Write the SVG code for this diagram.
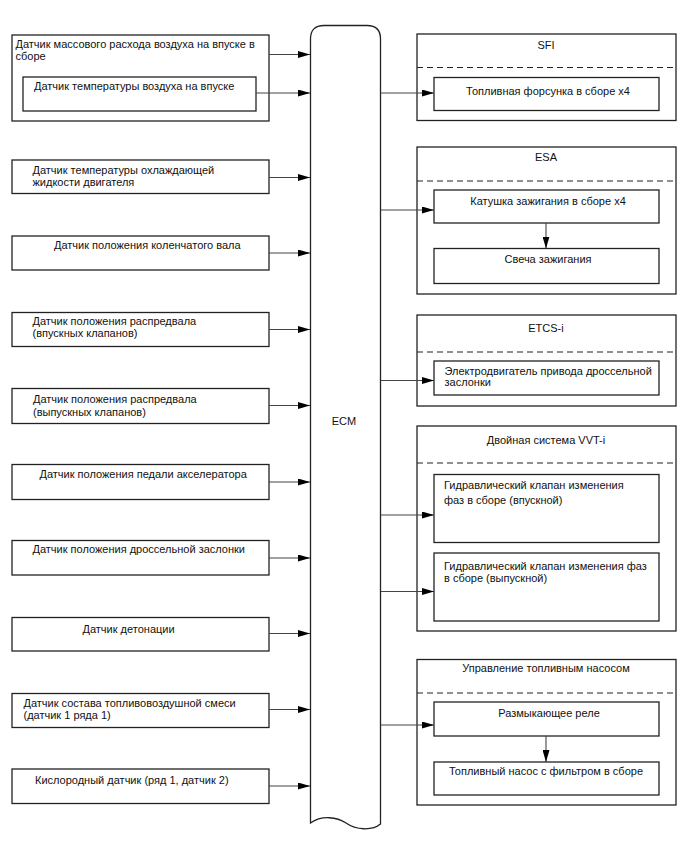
<svg xmlns="http://www.w3.org/2000/svg" width="688" height="852" viewBox="0 0 688 852">
<defs>
<marker id="ah" viewBox="0 0 12 7" refX="12" refY="3.5" markerWidth="12" markerHeight="7" markerUnits="userSpaceOnUse" orient="auto">
<path d="M0,0 L12,3.5 L0,7 Z" fill="#000"/>
</marker>
<style>
.box{fill:#fff;stroke:#222;stroke-width:1.3}
.dash{fill:none;stroke:#222;stroke-width:1.2;stroke-dasharray:6 4}
.t{font-family:"Liberation Sans",Arial,sans-serif;font-size:11px;fill:#111}
.c{text-anchor:middle}
.conn{fill:none;stroke:#444;stroke-width:1.1;marker-end:url(#ah)}
</style>
</defs>
<rect width="688" height="852" fill="#fff"/>

<g id="ecm">
<path class="box" d="M310.5,823 L310.5,39 Q310.5,25.5 324,25.5 L367,25.5 Q380.5,25.5 380.5,39 L380.5,824 C372,831 356,830 346,823 C337,817 322,815 310.5,823 Z"/>
<text class="t c" x="344" y="425">ECM</text>
</g>

<g id="maf">
<rect class="box" x="12" y="35" width="257" height="86"/>
<text class="t" x="15.5" y="47.5">Датчик массового расхода воздуха на впуске в</text>
<text class="t" x="15.5" y="60">сборе</text>
</g>
<g id="iat">
<rect class="box" x="23" y="77" width="233" height="34"/>
<text class="t" x="34" y="90">Датчик температуры воздуха на впуске</text>
</g>
<g id="ect">
<rect class="box" x="12" y="160" width="257" height="33.5"/>
<text class="t" x="32.5" y="174">Датчик температуры охлаждающей</text>
<text class="t" x="32.5" y="185.5">жидкости двигателя</text>
</g>
<g id="ckp">
<rect class="box" x="12" y="236" width="257" height="34"/>
<text class="t" x="54" y="249">Датчик положения коленчатого вала</text>
</g>
<g id="cmp-in">
<rect class="box" x="12" y="312.5" width="257" height="34"/>
<text class="t" x="32.5" y="324.5">Датчик положения распредвала</text>
<text class="t" x="32.5" y="337">(впускных клапанов)</text>
</g>
<g id="cmp-ex">
<rect class="box" x="12" y="388.5" width="257" height="35"/>
<text class="t" x="33" y="403">Датчик положения распредвала</text>
<text class="t" x="33" y="416">(выпускных клапанов)</text>
</g>
<g id="app">
<rect class="box" x="12" y="464.5" width="257" height="35"/>
<text class="t" x="39.5" y="478">Датчик положения педали акселератора</text>
</g>
<g id="tps">
<rect class="box" x="12" y="540.5" width="257" height="34.5"/>
<text class="t" x="32.5" y="553">Датчик положения дроссельной заслонки</text>
</g>
<g id="knock">
<rect class="box" x="12" y="617.5" width="257" height="33.5"/>
<text class="t" x="82.5" y="632.5">Датчик детонации</text>
</g>
<g id="af">
<rect class="box" x="12" y="693.5" width="257" height="34"/>
<text class="t" x="23.5" y="707">Датчик состава топливовоздушной смеси</text>
<text class="t" x="23.5" y="718.5">(датчик 1 ряда 1)</text>
</g>
<g id="o2">
<rect class="box" x="12" y="769" width="257" height="34.5"/>
<text class="t" x="35" y="783.5">Кислородный датчик (ряд 1, датчик 2)</text>
</g>

<g id="sfi">
<rect class="box" x="417" y="34" width="259" height="86.5"/>
<text class="t c" x="546" y="48.5">SFI</text>
<line class="dash" x1="417" y1="67.5" x2="676" y2="67.5"/>
</g>
<g id="injector">
<rect class="box" x="434" y="77.5" width="225" height="33"/>
<text class="t c" x="548" y="95">Топливная форсунка в сборе x4</text>
</g>

<g id="esa">
<rect class="box" x="417" y="147" width="259" height="147"/>
<text class="t c" x="546" y="160.5">ESA</text>
<line class="dash" x1="417" y1="181" x2="676" y2="181"/>
</g>
<g id="coil">
<rect class="box" x="434" y="190" width="225" height="33"/>
<text class="t c" x="548" y="205">Катушка зажигания в сборе x4</text>
</g>
<g id="plug">
<rect class="box" x="434" y="248.5" width="225" height="35"/>
<text class="t c" x="548" y="263">Свеча зажигания</text>
</g>

<g id="etcs">
<rect class="box" x="417" y="315" width="259" height="91"/>
<text class="t c" x="546" y="331.5">ETCS-i</text>
<line class="dash" x1="417" y1="352" x2="676" y2="352"/>
</g>
<g id="throttle-motor">
<rect class="box" x="434" y="361" width="225" height="34"/>
<text class="t" x="444.5" y="374.5">Электродвигатель привода дроссельной</text>
<text class="t" x="444.5" y="386">заслонки</text>
</g>

<g id="vvt">
<rect class="box" x="417" y="426" width="259" height="205"/>
<text class="t c" x="546" y="443.5">Двойная система VVT-i</text>
<line class="dash" x1="417" y1="463" x2="676" y2="463"/>
</g>
<g id="ocv-in">
<rect class="box" x="434" y="474.5" width="225" height="68"/>
<text class="t" x="444" y="488.5">Гидравлический клапан изменения</text>
<text class="t" x="444" y="504">фаз в сборе (впускной)</text>
</g>
<g id="ocv-ex">
<rect class="box" x="434" y="553" width="225" height="68"/>
<text class="t" x="444" y="570">Гидравлический клапан изменения фаз</text>
<text class="t" x="444" y="581.5">в сборе (выпускной)</text>
</g>

<g id="fuelpump-ctrl">
<rect class="box" x="417" y="659.5" width="259" height="145.5"/>
<text class="t c" x="546" y="672">Управление топливным насосом</text>
<line class="dash" x1="417" y1="693" x2="676" y2="693"/>
</g>
<g id="relay">
<rect class="box" x="434" y="702" width="225" height="34"/>
<text class="t c" x="549" y="717">Размыкающее реле</text>
</g>
<g id="pump">
<rect class="box" x="434" y="762" width="225" height="33"/>
<text class="t c" x="546" y="775">Топливный насос с фильтром в сборе</text>
</g>

<g id="connectors">
<line class="conn" x1="269" y1="54.5" x2="310" y2="54.5"/>
<line class="conn" x1="256" y1="93" x2="310" y2="93"/>
<line class="conn" x1="269" y1="177.5" x2="310" y2="177.5"/>
<line class="conn" x1="269" y1="253" x2="310" y2="253"/>
<line class="conn" x1="269" y1="329.5" x2="310" y2="329.5"/>
<line class="conn" x1="269" y1="405.5" x2="310" y2="405.5"/>
<line class="conn" x1="269" y1="482" x2="310" y2="482"/>
<line class="conn" x1="269" y1="558" x2="310" y2="558"/>
<line class="conn" x1="269" y1="633.5" x2="310" y2="633.5"/>
<line class="conn" x1="269" y1="709.5" x2="310" y2="709.5"/>
<line class="conn" x1="269" y1="786" x2="310" y2="786"/>
<line class="conn" x1="381" y1="93" x2="434" y2="93"/>
<line class="conn" x1="381" y1="210" x2="434" y2="210"/>
<line class="conn" x1="381" y1="380.5" x2="434" y2="380.5"/>
<line class="conn" x1="381" y1="515" x2="434" y2="515"/>
<line class="conn" x1="381" y1="591.5" x2="434" y2="591.5"/>
<line class="conn" x1="381" y1="725" x2="434" y2="725"/>
<line class="conn" x1="546" y1="223" x2="546" y2="248.5"/>
<line class="conn" x1="546" y1="736" x2="546" y2="762"/>
</g>
</svg>
